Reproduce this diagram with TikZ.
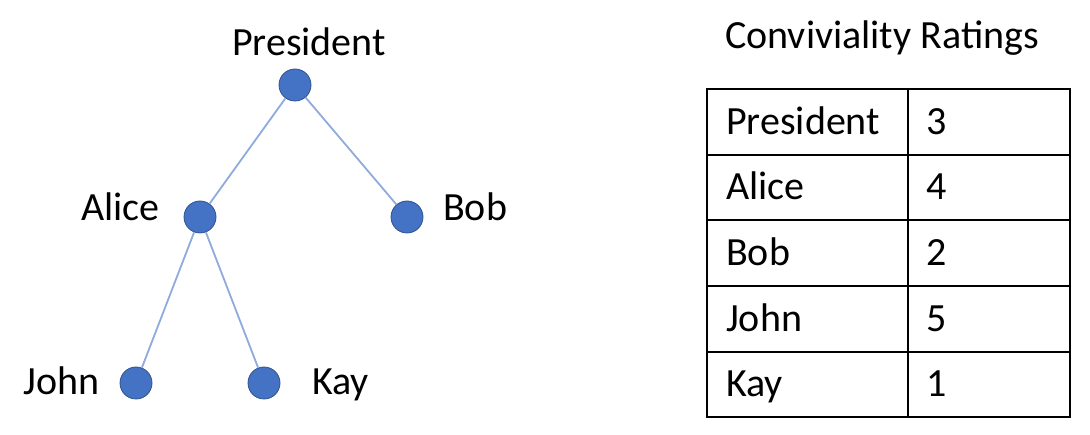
\documentclass[tikz,border=0pt]{standalone}
\usepackage{fontspec}
\setmainfont{Carlito}
\definecolor{nodeblue}{HTML}{4472C4}
\definecolor{nodeedge}{HTML}{2F528F}
\definecolor{edgeblue}{HTML}{8FAADC}
\begin{document}
\begin{tikzpicture}[x=1pt,y=-1pt,
  person/.style={circle,fill=nodeblue,draw=nodeedge,line width=0.8pt,minimum size=32pt,inner sep=0pt},
  link/.style={draw=edgeblue,line width=1.8pt},
  lbl/.style={font=\fontsize{40}{48}\selectfont,inner sep=0pt},
  grid/.style={draw=black,line width=2pt}]
\useasboundingbox (0,0) rectangle (1090,435);
% tree nodes
\node[person] (pres) at (295,85) {};
\node[person] (alice) at (200,217) {};
\node[person] (bob) at (407,217) {};
\node[person] (john) at (136,383) {};
\node[person] (kay) at (264,383) {};
\draw[link] (pres) -- (alice);
\draw[link] (pres) -- (bob);
\draw[link] (alice) -- (john);
\draw[link] (alice) -- (kay);
% labels
\node[lbl,anchor=base] (lpres) at (309,56) {President};
\node[lbl,anchor=base east] (lalice) at (160,221) {Alice};
\node[lbl,anchor=base west] (lbob) at (443,221) {Bob};
\node[lbl,anchor=base east] (ljohn) at (100,395) {John};
\node[lbl,anchor=base west] (lkay) at (312,395) {Kay};
% table
\node[lbl,anchor=base west] (title) at (725,49) {Conviviality Ratings};
\draw[grid] (707,89) rectangle (1070,417);
\draw[grid] (908,89) -- (908,417);
\foreach \y in {155,220,286,352} \draw[grid] (707,\y) -- (1070,\y);
\node[lbl,anchor=base west] (n1) at (726,135) {President};
\node[lbl,anchor=base west] (v1) at (926,135) {3};
\node[lbl,anchor=base west] (n2) at (726,200) {Alice};
\node[lbl,anchor=base west] (v2) at (926,200) {4};
\node[lbl,anchor=base west] (n3) at (726,266) {Bob};
\node[lbl,anchor=base west] (v3) at (926,266) {2};
\node[lbl,anchor=base west] (n4) at (726,332) {John};
\node[lbl,anchor=base west] (v4) at (926,332) {5};
\node[lbl,anchor=base west] (n5) at (726,397) {Kay};
\node[lbl,anchor=base west] (v5) at (926,397) {1};
\end{tikzpicture}
\end{document}
